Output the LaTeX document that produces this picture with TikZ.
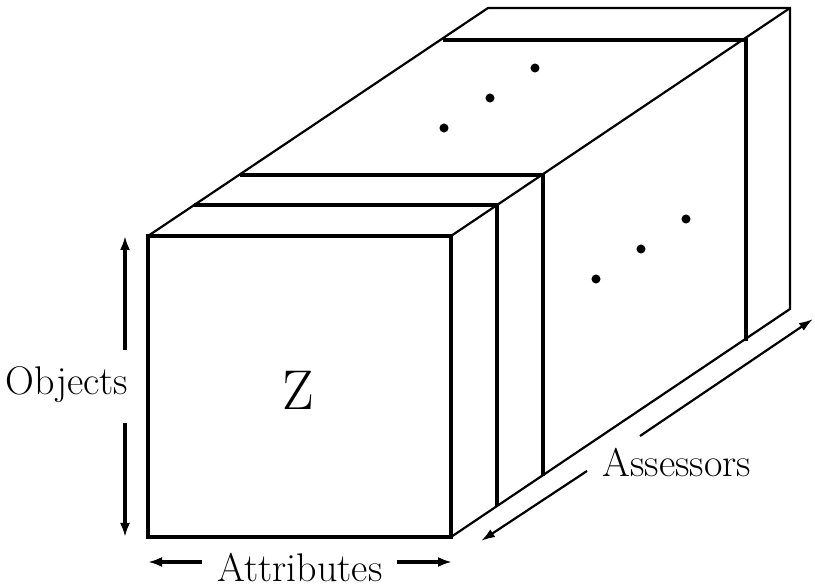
\documentclass[tikz,border=0pt]{standalone}
\usepackage{tikz}
\usetikzlibrary{arrows.meta, positioning}

\tikzset{
    face/.style={line width=2.3pt},
    slice/.style={line width=1.8pt},
    edge/.style={line width=1.1pt},
    dimarrow/.style={line width=1.7pt, -{Latex[length=7pt,width=5pt]}},
    deeparrow/.style={line width=1.1pt, -{Latex[length=7pt,width=4.5pt]}},
    lbl/.style={font=\fontsize{20}{24}\selectfont, inner sep=0pt}
}

\begin{document}
\begin{tikzpicture}[x=0.5pt, y=-0.5pt]
        \useasboundingbox (0,0) rectangle (815,587);
        % depth edges
        \draw[edge] (148,236) -- (488,8) -- (790,8) -- (790,309) -- (451,537);
        \draw[edge] (451,236) -- (790,8);
        % slices behind the front face
        \foreach \dx/\dy in {46/-31, 92/-61, 295/-196} {
            \draw[slice] (148+\dx,236+\dy) -- (451+\dx,236+\dy) -- (451+\dx,537+\dy);
        }
        % front face
        \draw[face, fill=white] (148,236) rectangle (451,537);
        \node (zlabel) at (298,390) {\fontsize{28}{33}\selectfont Z};
        % dots
        \foreach \x/\y in {444/128, 490/98, 535/68, 596/279, 641/249, 686/219} {
            \node[fill, circle, inner sep=1.6pt] at (\x,\y) {};
        }
        % labels
        \node[lbl] (obj) at (67,385) {Objects};
        \coordinate (objtop) at (125,236);
        \coordinate (objbot) at (125,537);
        \draw[dimarrow] (125,350) -- (objtop);
        \draw[dimarrow] (125,423) -- (objbot);
        \node[lbl] (attr) at (300,568) {Attributes};
        \coordinate (attrleft) at (148,562);
        \coordinate (attrright) at (452,562);
        \draw[dimarrow] (202,562) -- (attrleft);
        \draw[dimarrow] (397,562) -- (attrright);
        \node[lbl] (assess) at (677,463) {Assessors};
        \coordinate (asstop) at (813,319);
        \coordinate (assbot) at (481,541);
        \draw[deeparrow] (640,436) -- (asstop);
        \draw[deeparrow] (587,471) -- (assbot);
    \end{tikzpicture}
\end{document}
